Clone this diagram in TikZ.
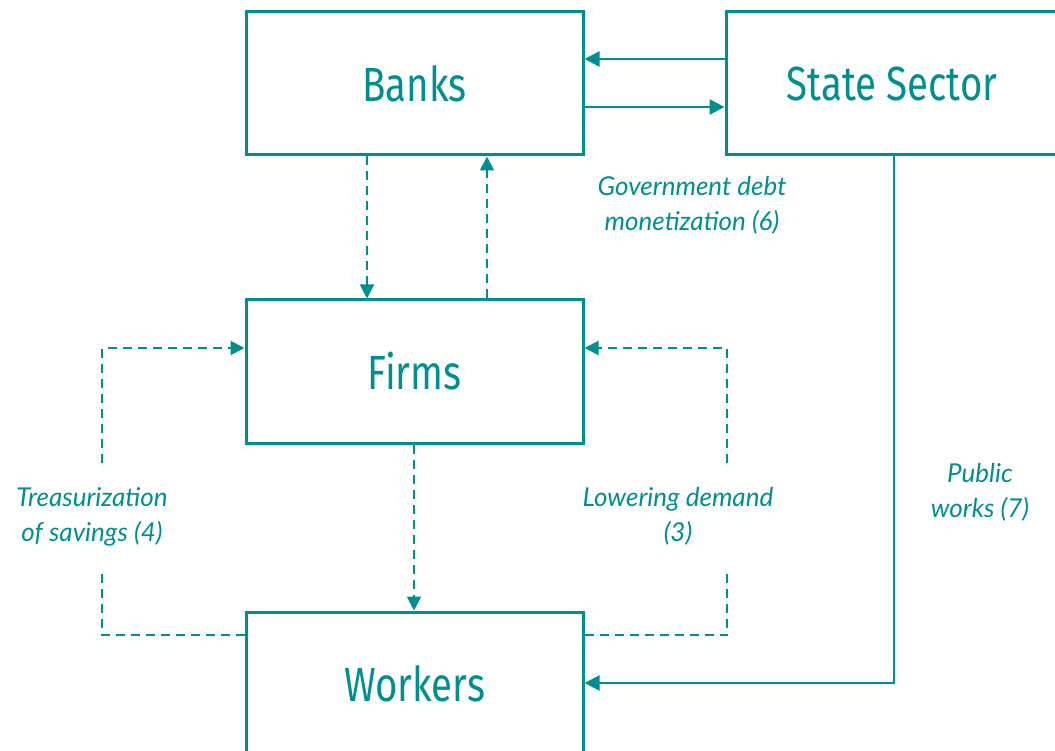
\documentclass[tikz,border=0pt]{standalone}
\usepackage{fontspec}
\usetikzlibrary{arrows.meta}
\newfontfamily\boxfont[FakeStretch=0.8]{Fira Sans}
\newfontfamily\labfont{Lato}
\definecolor{teal1}{RGB}{0,143,143}
\tikzset{
  box/.style={draw=teal1, line width=3pt, minimum width=337pt, minimum height=143pt, inner sep=0pt,
    text=teal1, font=\boxfont\fontsize{48}{52}\selectfont},
  solidarr/.style={draw=teal1, line width=2.5pt, -{Triangle[length=15pt,width=15pt]}},
  thinarr/.style={draw=teal1, line width=2pt, -{Triangle[length=15pt,width=15pt]}},
  dasharr/.style={draw=teal1, line width=2pt, dash pattern=on 9pt off 6pt, -{Triangle[length=14pt,width=14pt]}},
  lab/.style={text=teal1, align=center, font=\labfont\itshape\fontsize{26}{35}\selectfont, inner sep=0pt},
}
\begin{document}
\begin{tikzpicture}[x=1pt,y=-1pt]
\useasboundingbox (0,0) rectangle (1055,751);
\node[box] (banks) at (414.5,83.5) {Banks};
\node[box, minimum width=332pt] (state) at (892,83.5) {State Sector};
\node[box] (firms) at (414.5,371.5) {Firms};
\node[box] (workers) at (414.5,683.5) {Workers};

% Banks <-> State
\draw[solidarr] (state.west |- 0,59) -- (banks.east |- 0,59);
\draw[solidarr] (banks.east |- 0,107) -- (state.west |- 0,107);

% Banks <-> Firms
\draw[dasharr] (367,0 |- banks.south) -- (367,0 |- firms.north);
\draw[dasharr] (487,0 |- firms.north) -- (487,0 |- banks.south);

% Firms -> Workers
\draw[dasharr] (414,0 |- firms.south) -- (414,0 |- workers.north);

% loops
\coordinate (lb) at (102,635);
\coordinate (lt) at (102,348);
\coordinate (rb) at (727,635);
\coordinate (rt) at (727,348);
\draw[dasharr] (workers.west |- lb) -- (lb) -- (lt) -- (firms.west |- lt);
\draw[dasharr] (workers.east |- rb) -- (rb) -- (rt) -- (firms.east |- rt);

% Public works
\coordinate (pw) at (894,683);
\draw[thinarr] (state.south -| pw) -- (pw) -- (workers.east |- pw);

% labels
\node[lab, fill=white, minimum height=103pt, minimum width=160pt] (l4) at (92,516.5) {Treasurization\\of savings (4)};
\node[lab, fill=white, minimum height=103pt] (l3) at (678,516.5) {Lowering demand\\(3)};
\node[lab] (l6) at (692,205) {Government debt\\monetization (6)};
\node[lab] (l7) at (980,492) {Public\\works (7)};
\end{tikzpicture}
\end{document}
